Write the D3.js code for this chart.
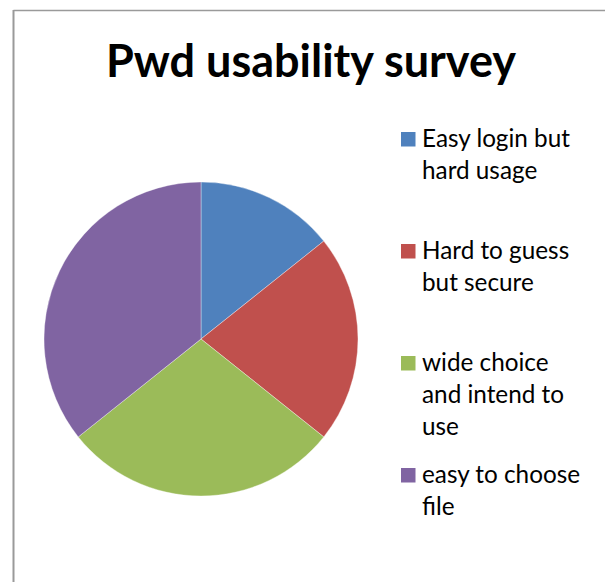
<!DOCTYPE html>
<html>
<head>
<meta charset="utf-8">
<script src="https://cdn.jsdelivr.net/npm/d3@7"></script>
<style>
  html, body { margin: 0; padding: 0; background: #fff; }
  svg { display: block; }
</style>
</head>
<body>
<svg id="chart" width="605" height="582"></svg>
<script>
const title = "Pwd usability survey";
const categories = [
  "Easy login but hard usage",
  "Hard to guess but secure",
  "wide choice and intend to use",
  "easy to choose file"
];
const values = [10, 15, 20, 25];
const colors = ["#4F81BD", "#C0504D", "#9BBB59", "#8064A2"];
const legendBaselines = [147, 259, 371, 483];

const svg = d3.select("#chart");
const W = 605, H = 582;

// chart frame (partially visible in the reference)
svg.append("line").attr("x1", 13.5).attr("y1", 10.5).attr("x2", W + 5).attr("y2", 10.5)
  .attr("stroke", "#9a9a9a").attr("stroke-width", 1.5);
svg.append("line").attr("x1", 13.5).attr("y1", 10).attr("x2", 13.5).attr("y2", H + 5)
  .attr("stroke", "#9a9a9a").attr("stroke-width", 2);

// title
svg.append("text")
  .attr("x", 311).attr("y", 77)
  .attr("text-anchor", "middle")
  .attr("font-family", "Lato, 'Open Sans', sans-serif")
  .attr("font-weight", "bold")
  .attr("font-size", 45)
  .attr("fill", "#000")
  .text(title);

// pie
const cx = 201, cy = 339, R = 157;
const pie = d3.pie().sort(null).value(d => d)(values);
const arc = d3.arc().innerRadius(0).outerRadius(R);
const g = svg.append("g").attr("transform", `translate(${cx},${cy})`);
g.selectAll("path").data(pie).join("path")
  .attr("d", arc)
  .attr("fill", (d, i) => colors[i])
  .attr("stroke", "#ffffff")
  .attr("stroke-opacity", 0.6)
  .attr("stroke-width", 0.6);

// legend
const fontSize = 24.3, lineH = 32, maxW = 168;
const leg = svg.append("g");
categories.forEach((name, i) => {
  const base = legendBaselines[i];
  leg.append("rect")
    .attr("x", 401).attr("y", base - 15)
    .attr("width", 14.5).attr("height", 14.5)
    .attr("fill", colors[i]);
  const t = leg.append("text")
    .attr("font-family", "Lato, 'Open Sans', sans-serif")
    .attr("font-size", fontSize)
    .attr("fill", "#000");
  const words = name.split(" ");
  let line = [], lines = [];
  const probe = t.append("tspan");
  words.forEach(w => {
    const test = line.concat([w]).join(" ");
    probe.text(test);
    if (probe.node().getComputedTextLength() > maxW && line.length) {
      lines.push(line.join(" "));
      line = [w];
    } else line.push(w);
  });
  lines.push(line.join(" "));
  probe.remove();
  lines.forEach((l, k) => {
    t.append("tspan").attr("x", 422).attr("y", base + k * lineH).text(l);
  });
});
</script>
</body>
</html>
